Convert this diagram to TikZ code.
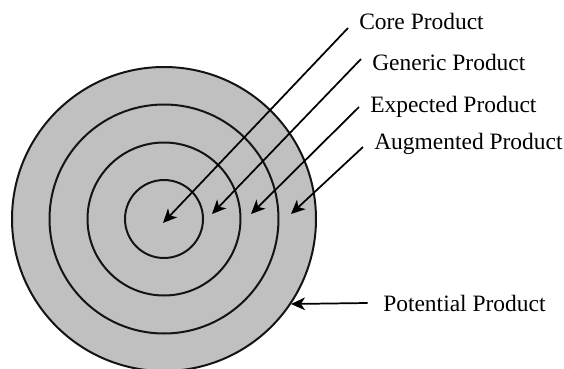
\documentclass[tikz,border=0pt]{standalone}
\usepackage{fontspec}
\setmainfont{Liberation Serif}
\usetikzlibrary{arrows.meta}
\definecolor{ringgray}{RGB}{192,192,192}

\begin{document}
\begin{tikzpicture}[x=0.75pt,y=0.75pt,yscale=-1,xscale=1]
\tikzset{
  ring/.style={line width=1.5pt, color={rgb, 255:red, 20; green, 20; blue, 20 }},
  pointer/.style={line width=1.3pt, -{Stealth[length=10.5pt,width=9.5pt,inset=3pt]}},
  lbl/.style={anchor=west, inner sep=0pt, font=\fontsize{17.6}{20}\selectfont}
}
\useasboundingbox (0,0) rectangle (564,368);
\clip (0,0) rectangle (564,368);

%Circles
\coordinate (ctr) at (164,219);
\fill [ringgray] (ctr) circle (152);
\draw [ring] (ctr) circle (152);
\draw [ring] (ctr) circle (114.5);
\draw [ring] (ctr) circle (76.5);
\draw [ring] (ctr) circle (39);

% Text Node
\draw (359,21) node [lbl] (core) {Core Product};
% Text Node
\draw (372,62) node [lbl] (generic) {Generic Product};
% Text Node
\draw (370,107) node [lbl] (expected) {Expected Product};
% Text Node
\draw (374,144) node [lbl] (augmented) {Augmented Product};
% Text Node
\draw (383,303) node [lbl] (potential) {Potential Product};

%Arrow ends
\coordinate (corefrom) at (348,28);
\coordinate (coretip) at (163,223);
\coordinate (genericfrom) at (361,59);
\coordinate (generictip) at (212,214);
\coordinate (expectedfrom) at (359,107);
\coordinate (expectedtip) at (251,214);
\coordinate (augmentedfrom) at (363,147);
\coordinate (augmentedtip) at (291,214);
\coordinate (potentialtip) at (291,304);

%Straight Lines
\draw [pointer] (corefrom) -- (coretip);
\draw [pointer] (genericfrom) -- (generictip);
\draw [pointer] (expectedfrom) -- (expectedtip);
\draw [pointer] (augmentedfrom) -- (augmentedtip);
\draw [pointer] ([xshift=-11.5pt]potential.west) -- (potentialtip);

\end{tikzpicture}
\end{document}
